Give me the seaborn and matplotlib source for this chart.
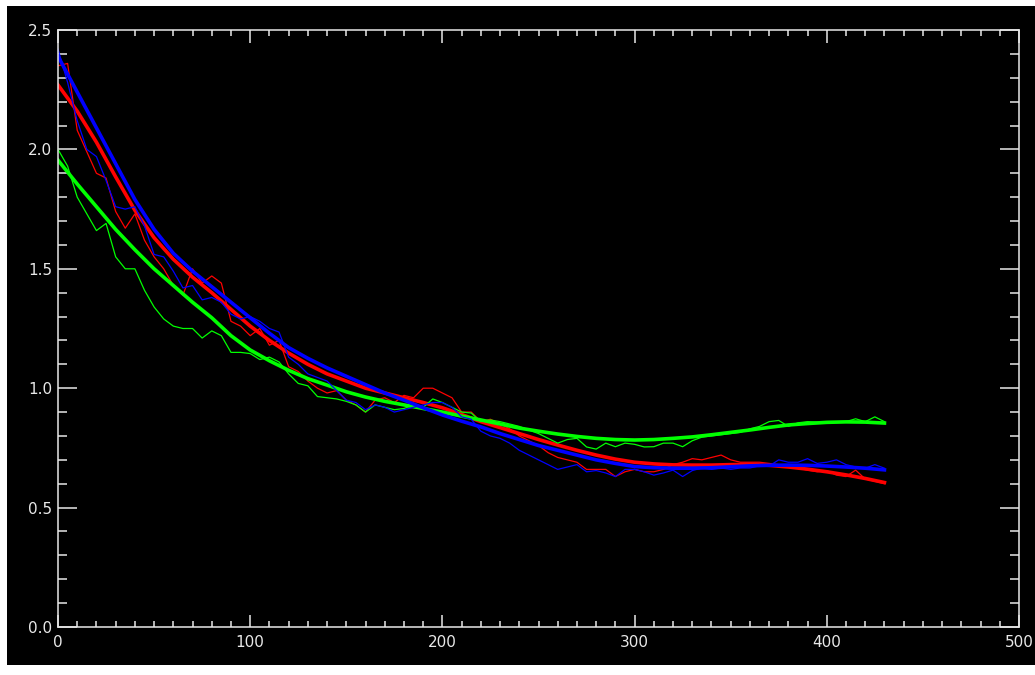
import numpy as np
import pandas as pd
import seaborn as sns
import matplotlib.pyplot as plt
from matplotlib.patches import Rectangle
from matplotlib.ticker import MultipleLocator

# noisy measurements, sampled every 5 units
x_raw = np.arange(0, 431, 5)
red_raw = [2.35, 2.36, 2.08, 1.99, 1.90, 1.88, 1.74, 1.67, 1.73, 1.62,
           1.55, 1.50, 1.43, 1.39, 1.50, 1.44, 1.47, 1.44, 1.28, 1.26,
           1.22, 1.25, 1.18, 1.20, 1.09, 1.07, 1.03, 1.00, 0.98, 0.99,
           0.95, 0.93, 0.90, 0.95, 0.96, 0.94, 0.97, 0.96, 1.00, 1.00,
           0.98, 0.96, 0.90, 0.90, 0.86, 0.87, 0.85, 0.83, 0.80, 0.78,
           0.76, 0.73, 0.71, 0.70, 0.69, 0.66, 0.66, 0.66, 0.63, 0.65,
           0.66, 0.65, 0.65, 0.66, 0.68, 0.69, 0.705, 0.70, 0.71, 0.72,
           0.70, 0.69, 0.69, 0.69, 0.685, 0.68, 0.675, 0.665, 0.657, 0.65,
           0.655, 0.636, 0.63, 0.657, 0.62, 0.61, 0.60]
blue_raw = [2.42, 2.28, 2.12, 2.00, 1.97, 1.87, 1.76, 1.75, 1.76, 1.68,
            1.56, 1.55, 1.49, 1.42, 1.43, 1.37, 1.38, 1.36, 1.31, 1.29,
            1.30, 1.28, 1.25, 1.235, 1.13, 1.10, 1.06, 1.045, 1.03, 0.99,
            0.95, 0.94, 0.91, 0.93, 0.92, 0.90, 0.91, 0.92, 0.93, 0.94,
            0.94, 0.92, 0.88, 0.87, 0.82, 0.80, 0.79, 0.77, 0.74, 0.72,
            0.70, 0.68, 0.66, 0.67, 0.68, 0.65, 0.655, 0.645, 0.63, 0.66,
            0.66, 0.65, 0.636, 0.645, 0.657, 0.63, 0.655, 0.666, 0.66, 0.666,
            0.66, 0.666, 0.666, 0.675, 0.674, 0.70, 0.69, 0.69, 0.705, 0.685,
            0.69, 0.70, 0.68, 0.67, 0.665, 0.68, 0.665]
green_raw = [2.00, 1.93, 1.80, 1.73, 1.66, 1.69, 1.55, 1.50, 1.50, 1.41,
             1.34, 1.29, 1.26, 1.25, 1.25, 1.21, 1.24, 1.22, 1.15, 1.15,
             1.145, 1.12, 1.13, 1.11, 1.06, 1.02, 1.01, 0.965, 0.96, 0.955,
             0.945, 0.93, 0.90, 0.93, 0.92, 0.91, 0.915, 0.93, 0.92, 0.955,
             0.94, 0.92, 0.90, 0.896, 0.86, 0.867, 0.86, 0.85, 0.84, 0.825,
             0.81, 0.79, 0.77, 0.785, 0.79, 0.754, 0.745, 0.77, 0.755, 0.77,
             0.765, 0.754, 0.755, 0.77, 0.77, 0.755, 0.78, 0.795, 0.80, 0.805,
             0.81, 0.815, 0.83, 0.84, 0.86, 0.865, 0.84, 0.855, 0.86, 0.858,
             0.858, 0.858, 0.86, 0.872, 0.86, 0.88, 0.86]

# fitted curves, sampled every 10 units
x_fit = np.arange(0, 431, 10)
red_fit = [2.27, 2.16, 2.03, 1.885, 1.745, 1.63, 1.54, 1.465, 1.40, 1.33,
           1.26, 1.20, 1.147, 1.10, 1.06, 1.03, 1.00, 0.98, 0.96, 0.94,
           0.918, 0.89, 0.86, 0.835, 0.81, 0.785, 0.762, 0.74, 0.72, 0.703,
           0.69, 0.683, 0.679, 0.678, 0.678, 0.680, 0.681, 0.677, 0.670, 0.661,
           0.65, 0.637, 0.622, 0.605]
blue_fit = [2.39, 2.24, 2.09, 1.94, 1.79, 1.665, 1.565, 1.49, 1.425, 1.36,
            1.295, 1.23, 1.17, 1.125, 1.085, 1.05, 1.015, 0.98, 0.95, 0.918,
            0.888, 0.862, 0.838, 0.81, 0.785, 0.76, 0.74, 0.72, 0.70, 0.685,
            0.672, 0.667, 0.665, 0.665, 0.667, 0.671, 0.675, 0.677, 0.678, 0.677,
            0.674, 0.670, 0.665, 0.658]
green_fit = [1.955, 1.855, 1.76, 1.665, 1.58, 1.50, 1.43, 1.36, 1.295, 1.22,
             1.16, 1.115, 1.075, 1.04, 1.013, 0.985, 0.963, 0.945, 0.93, 0.915,
             0.90, 0.883, 0.867, 0.85, 0.833, 0.82, 0.808, 0.798, 0.79, 0.785,
             0.783, 0.785, 0.79, 0.796, 0.805, 0.815, 0.825, 0.836, 0.846, 0.852,
             0.857, 0.859, 0.858, 0.854]

df_raw = pd.DataFrame({"x": x_raw, "red": red_raw, "green": green_raw, "blue": blue_raw})
df_fit = pd.DataFrame({"x": x_fit, "red": red_fit, "green": green_fit, "blue": blue_fit})
colores = {"red": "#ff0000", "green": "#00ff00", "blue": "#0000ff"}

fig = plt.figure(figsize=(10.35, 6.75), dpi=100, facecolor="white")
fig.add_artist(Rectangle((7 / 1035, 10 / 675), 1028 / 1035, 659 / 675,
                         transform=fig.transFigure, facecolor="black",
                         edgecolor="none", zorder=-10))
ax = fig.add_axes([58 / 1035, 48 / 675, 961 / 1035, 597 / 675])
ax.set_facecolor("black")

for c in ["red", "green", "blue"]:
    sns.lineplot(data=df_raw, x="x", y=c, color=colores[c], lw=0.9, ax=ax)
    sns.lineplot(data=df_fit, x="x", y=c, color=colores[c], lw=2.6, ax=ax)

ax.set_xlim(0, 500)
ax.set_ylim(0, 2.5)
ax.set_xlabel("")
ax.set_ylabel("")
ax.xaxis.set_major_locator(MultipleLocator(100))
ax.xaxis.set_minor_locator(MultipleLocator(10))
ax.yaxis.set_major_locator(MultipleLocator(0.5))
ax.yaxis.set_minor_locator(MultipleLocator(0.1))
ax.set_yticks(np.arange(0, 2.51, 0.5))
ax.set_yticklabels(["0.0", "0.5", "1.0", "1.5", "2.0", "2.5"])

for s in ax.spines.values():
    s.set_color("#e8e8e8")
    s.set_linewidth(1.1)

ax.tick_params(axis="both", which="both", direction="in", colors="#e8e8e8",
               top=True, right=True, width=1.1, labelsize=11)
ax.tick_params(axis="x", which="major", length=9, pad=6)
ax.tick_params(axis="x", which="minor", length=4.5)
ax.tick_params(axis="y", which="major", length=13.5, pad=4)
ax.tick_params(axis="y", which="minor", length=6.5)
for lab in ax.get_xticklabels() + ax.get_yticklabels():
    lab.set_family(["Liberation Sans Narrow", "DejaVu Sans"])

fig.savefig("out.png", dpi=100, facecolor="white")
